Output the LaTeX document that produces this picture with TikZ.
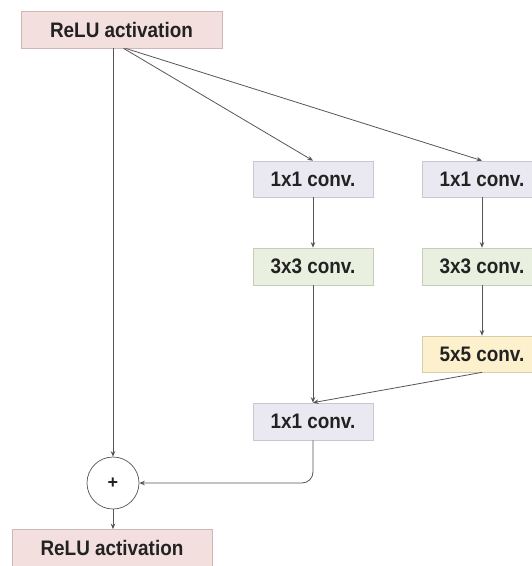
\documentclass[tikz,border=0pt]{standalone}
\usepackage{fontspec}
\setmainfont{Liberation Sans}
\newfontfamily\labelfont[FakeStretch=0.9]{Liberation Sans}
\usetikzlibrary{arrows.meta}
\definecolor{reluFill}{HTML}{F3DFDD}
\definecolor{reluLine}{HTML}{CDB8B6}
\definecolor{oneFill}{HTML}{EAE9F1}
\definecolor{oneLine}{HTML}{C9C8D1}
\definecolor{threeFill}{HTML}{E9F0E0}
\definecolor{threeLine}{HTML}{C6CDBD}
\definecolor{fiveFill}{HTML}{FCF0CD}
\definecolor{fiveLine}{HTML}{D9CCA8}
\definecolor{wire}{HTML}{555555}
\definecolor{ink}{HTML}{222222}
\tikzset{
  layer/.style={draw, line width=0.7pt, inner sep=0pt, minimum width=120pt,
    minimum height=36pt, text=ink,
    font=\labelfont\fontsize{21}{24}\selectfont\bfseries},
  relubox/.style={layer, fill=reluFill, draw=reluLine, minimum width=201pt, minimum height=37pt},
  onebox/.style={layer, fill=oneFill, draw=oneLine},
  threebox/.style={layer, fill=threeFill, draw=threeLine, minimum height=37pt},
  fivebox/.style={layer, fill=fiveFill, draw=fiveLine},
  sumnode/.style={circle, draw=wire, fill=white, line width=0.7pt, minimum size=52pt,
    inner sep=0pt, text=ink, font=\fontsize{18}{20}\selectfont\bfseries},
  flow/.style={draw=wire, line width=0.8pt, -{Stealth[length=5.5pt,width=4.5pt]}}
}
\begin{document}
\begin{tikzpicture}[x=1pt, y=-1pt]
\useasboundingbox (0,0) rectangle (532,566);
\begin{scope}
\clip (0,0) rectangle (532,566);
% blocks
\node[relubox] (relu1) at (121.5,29.5) {ReLU activation};
\node[onebox] (c1a) at (313,179) {1x1 conv.};
\node[onebox] (c1b) at (482,179) {1x1 conv.};
\node[threebox] (c3a) at (313,266.5) {3x3 conv.};
\node[threebox] (c3b) at (482,266.5) {3x3 conv.};
\node[fivebox] (c5) at (482,354) {5x5 conv.};
\node[onebox, minimum height=37pt] (c1c) at (313,421.5) {1x1 conv.};
\node[sumnode] (plus) at (113,483) {+};
\node[relubox, minimum width=200pt] (relu2) at (112,548) {ReLU activation};
% connectors
\draw[flow] (relu1.south -| plus.north) -- (plus.north);
\draw[flow] ([xshift=2pt]relu1.south) -- (c1a.north);
\draw[flow] ([xshift=4pt]relu1.south) -- (c1b.north);
\draw[flow] (c1a) -- (c3a);
\draw[flow] (c1b) -- (c3b);
\draw[flow] (c3b) -- (c5);
\draw[flow] (c3a) -- (c1c);
\draw[flow] (c5.south) -- (c1c.north);
\draw[flow, rounded corners=11pt] (c1c.south) |- (plus.east);
\draw[flow] (plus.south) -- (plus.south |- relu2.north);
\end{scope}
\end{tikzpicture}
\end{document}
